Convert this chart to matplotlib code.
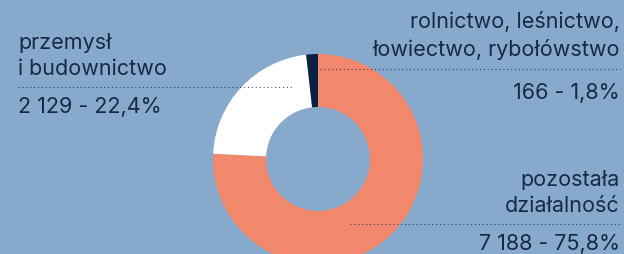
import matplotlib
matplotlib.use("Agg")
import matplotlib.pyplot as plt

labels = ["pozostała\ndziałalność", "przemysł\ni budownictwo", "rolnictwo, leśnictwo,\nłowiectwo, rybołówstwo"]
counts = ["7 188", "2 129", "166"]
shares = [75.8, 22.4, 1.8]

bg = "#87a9cb"
colors = ["#f2886c", "#ffffff", "#0b2244"]
txt = "#16294a"

plt.rcParams['font.family'] = ['Inter', 'DejaVu Sans']

fig = plt.figure(figsize=(6.24, 2.55), dpi=100, facecolor=bg)
ax = fig.add_axes([0, 0, 1, 1])
ax.set_facecolor(bg)

# donut, clockwise from 12 o'clock
ax.pie(shares, colors=colors, startangle=90, counterclock=False,
       center=(318, 95), radius=105,
       wedgeprops=dict(width=53, linewidth=0))
ax.set_xlim(0, 624)
ax.set_ylim(0, 255)
ax.axis("off")

def fmt(c, s):
    return c + " - " + ("%.1f" % s).replace(".", ",") + "%"

fs = 15.5
fw = "normal"
ls = 1.4
dots = (0, (1, 2.5))
# left label
ax.text(18, 255 - 75, labels[1], ha="left", va="baseline", fontsize=fs, color=txt, linespacing=ls, fontweight=fw)
ax.plot([18, 292], [255 - 88, 255 - 88], ls=dots, color=txt, lw=0.8, alpha=0.8)
ax.text(18, 255 - 113, fmt(counts[1], shares[1]), ha="left", va="baseline", fontsize=fs, color=txt, fontweight=fw)

# right top label
ax.text(620, 255 - 56, labels[2], ha="right", va="baseline", fontsize=fs, color=txt, linespacing=ls, fontweight=fw)
ax.plot([320, 620], [255 - 70, 255 - 70], ls=dots, color=txt, lw=0.8, alpha=0.8)
ax.text(620, 255 - 99, fmt(counts[2], shares[2]), ha="right", va="baseline", fontsize=fs, color=txt, fontweight=fw)

# right bottom label
ax.text(620, 255 - 212, labels[0], ha="right", va="baseline", fontsize=fs, color=txt, linespacing=ls, fontweight=fw)
ax.plot([350, 620], [255 - 225, 255 - 225], ls=dots, color=txt, lw=0.8, alpha=0.8)
ax.text(620, 255 - 250, fmt(counts[0], shares[0]), ha="right", va="baseline", fontsize=fs, color=txt, fontweight=fw)

fig.savefig("out.png", dpi=100, facecolor=bg)
